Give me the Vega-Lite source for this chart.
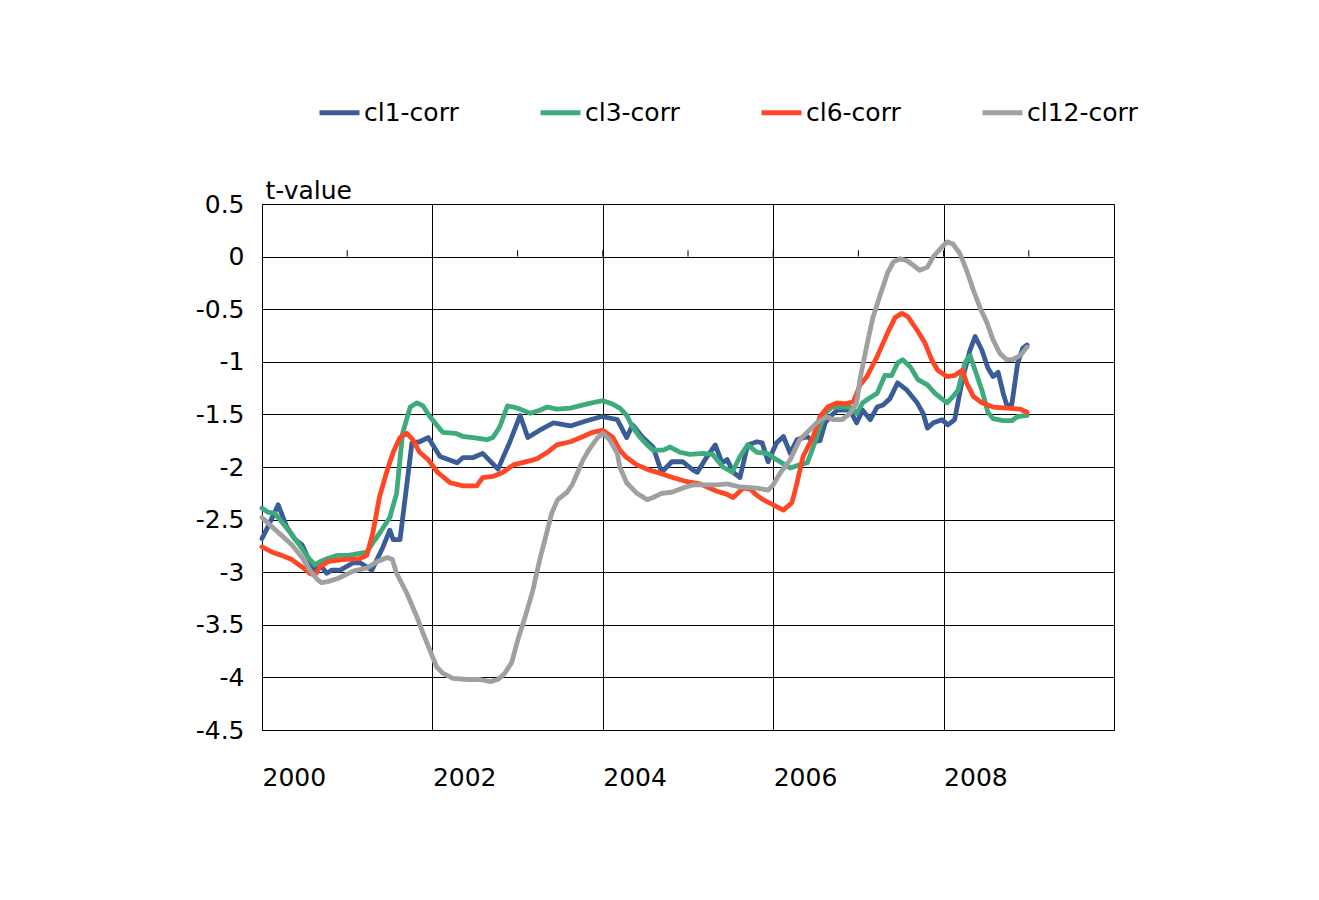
{
  "$schema": "https://vega.github.io/schema/vega-lite/v6.json",
  "width": 852,
  "height": 526,
  "autosize": {"type": "none"},
  "padding": {"left": 262, "top": 204, "right": 205, "bottom": 170},
  "background": "white",
  "config": {
    "font": "DejaVu Sans",
    "view": {"stroke": "black", "strokeWidth": 1},
    "axis": {"labelFont": "DejaVu Sans", "titleFont": "DejaVu Sans", "labelColor": "black", "titleColor": "black"},
    "legend": {"labelFont": "DejaVu Sans"}
  },
  "datasets": {
    "ticks": [{"yr": 2001}, {"yr": 2002}, {"yr": 2003}, {"yr": 2004}, {"yr": 2005}, {"yr": 2006}, {"yr": 2007}, {"yr": 2008}, {"yr": 2009}],
    "series": [
      {"s":"cl1-corr","x":2000.00,"y":-2.68},{"s":"cl1-corr","x":2000.05,"y":-2.60},{"s":"cl1-corr","x":2000.19,"y":-2.36},{"s":"cl1-corr","x":2000.29,"y":-2.57},{"s":"cl1-corr","x":2000.39,"y":-2.69},{"s":"cl1-corr","x":2000.47,"y":-2.74},{"s":"cl1-corr","x":2000.54,"y":-2.86},{"s":"cl1-corr","x":2000.62,"y":-2.98},{"s":"cl1-corr","x":2000.68,"y":-2.93},{"s":"cl1-corr","x":2000.76,"y":-3.01},{"s":"cl1-corr","x":2000.82,"y":-2.98},{"s":"cl1-corr","x":2000.92,"y":-2.98},{"s":"cl1-corr","x":2001.07,"y":-2.91},{"s":"cl1-corr","x":2001.15,"y":-2.91},{"s":"cl1-corr","x":2001.29,"y":-2.98},{"s":"cl1-corr","x":2001.42,"y":-2.76},{"s":"cl1-corr","x":2001.50,"y":-2.60},{"s":"cl1-corr","x":2001.54,"y":-2.69},{"s":"cl1-corr","x":2001.62,"y":-2.69},{"s":"cl1-corr","x":2001.76,"y":-1.77},{"s":"cl1-corr","x":2001.85,"y":-1.76},{"s":"cl1-corr","x":2001.95,"y":-1.72},{"s":"cl1-corr","x":2002.09,"y":-1.90},{"s":"cl1-corr","x":2002.29,"y":-1.96},{"s":"cl1-corr","x":2002.36,"y":-1.91},{"s":"cl1-corr","x":2002.48,"y":-1.91},{"s":"cl1-corr","x":2002.59,"y":-1.87},{"s":"cl1-corr","x":2002.77,"y":-2.02},{"s":"cl1-corr","x":2002.91,"y":-1.76},{"s":"cl1-corr","x":2003.03,"y":-1.51},{"s":"cl1-corr","x":2003.12,"y":-1.72},{"s":"cl1-corr","x":2003.26,"y":-1.65},{"s":"cl1-corr","x":2003.42,"y":-1.58},{"s":"cl1-corr","x":2003.62,"y":-1.61},{"s":"cl1-corr","x":2003.81,"y":-1.56},{"s":"cl1-corr","x":2003.99,"y":-1.52},{"s":"cl1-corr","x":2004.17,"y":-1.55},{"s":"cl1-corr","x":2004.28,"y":-1.72},{"s":"cl1-corr","x":2004.35,"y":-1.60},{"s":"cl1-corr","x":2004.47,"y":-1.72},{"s":"cl1-corr","x":2004.59,"y":-1.81},{"s":"cl1-corr","x":2004.69,"y":-2.05},{"s":"cl1-corr","x":2004.75,"y":-2.00},{"s":"cl1-corr","x":2004.81,"y":-1.95},{"s":"cl1-corr","x":2004.94,"y":-1.95},{"s":"cl1-corr","x":2005.06,"y":-2.03},{"s":"cl1-corr","x":2005.11,"y":-2.05},{"s":"cl1-corr","x":2005.20,"y":-1.93},{"s":"cl1-corr","x":2005.32,"y":-1.79},{"s":"cl1-corr","x":2005.40,"y":-1.96},{"s":"cl1-corr","x":2005.46,"y":-1.93},{"s":"cl1-corr","x":2005.53,"y":-2.05},{"s":"cl1-corr","x":2005.61,"y":-2.10},{"s":"cl1-corr","x":2005.70,"y":-1.79},{"s":"cl1-corr","x":2005.81,"y":-1.76},{"s":"cl1-corr","x":2005.87,"y":-1.77},{"s":"cl1-corr","x":2005.94,"y":-1.95},{"s":"cl1-corr","x":2006.04,"y":-1.77},{"s":"cl1-corr","x":2006.12,"y":-1.71},{"s":"cl1-corr","x":2006.20,"y":-1.87},{"s":"cl1-corr","x":2006.28,"y":-1.74},{"s":"cl1-corr","x":2006.40,"y":-1.71},{"s":"cl1-corr","x":2006.47,"y":-1.76},{"s":"cl1-corr","x":2006.55,"y":-1.75},{"s":"cl1-corr","x":2006.61,"y":-1.58},{"s":"cl1-corr","x":2006.67,"y":-1.52},{"s":"cl1-corr","x":2006.75,"y":-1.46},{"s":"cl1-corr","x":2006.90,"y":-1.46},{"s":"cl1-corr","x":2006.98,"y":-1.58},{"s":"cl1-corr","x":2007.05,"y":-1.46},{"s":"cl1-corr","x":2007.14,"y":-1.55},{"s":"cl1-corr","x":2007.22,"y":-1.43},{"s":"cl1-corr","x":2007.29,"y":-1.41},{"s":"cl1-corr","x":2007.37,"y":-1.35},{"s":"cl1-corr","x":2007.46,"y":-1.20},{"s":"cl1-corr","x":2007.57,"y":-1.27},{"s":"cl1-corr","x":2007.69,"y":-1.39},{"s":"cl1-corr","x":2007.76,"y":-1.49},{"s":"cl1-corr","x":2007.81,"y":-1.63},{"s":"cl1-corr","x":2007.88,"y":-1.58},{"s":"cl1-corr","x":2007.98,"y":-1.55},{"s":"cl1-corr","x":2008.05,"y":-1.60},{"s":"cl1-corr","x":2008.13,"y":-1.55},{"s":"cl1-corr","x":2008.22,"y":-1.17},{"s":"cl1-corr","x":2008.31,"y":-0.89},{"s":"cl1-corr","x":2008.37,"y":-0.76},{"s":"cl1-corr","x":2008.45,"y":-0.89},{"s":"cl1-corr","x":2008.52,"y":-1.06},{"s":"cl1-corr","x":2008.58,"y":-1.14},{"s":"cl1-corr","x":2008.64,"y":-1.10},{"s":"cl1-corr","x":2008.70,"y":-1.30},{"s":"cl1-corr","x":2008.74,"y":-1.41},{"s":"cl1-corr","x":2008.80,"y":-1.41},{"s":"cl1-corr","x":2008.87,"y":-1.01},{"s":"cl1-corr","x":2008.93,"y":-0.87},{"s":"cl1-corr","x":2008.98,"y":-0.84},

      {"s":"cl3-corr","x":2000.00,"y":-2.39},{"s":"cl3-corr","x":2000.07,"y":-2.43},{"s":"cl3-corr","x":2000.15,"y":-2.44},{"s":"cl3-corr","x":2000.23,"y":-2.52},{"s":"cl3-corr","x":2000.31,"y":-2.60},{"s":"cl3-corr","x":2000.42,"y":-2.72},{"s":"cl3-corr","x":2000.54,"y":-2.86},{"s":"cl3-corr","x":2000.62,"y":-2.93},{"s":"cl3-corr","x":2000.68,"y":-2.90},{"s":"cl3-corr","x":2000.77,"y":-2.87},{"s":"cl3-corr","x":2000.89,"y":-2.84},{"s":"cl3-corr","x":2001.01,"y":-2.84},{"s":"cl3-corr","x":2001.15,"y":-2.82},{"s":"cl3-corr","x":2001.23,"y":-2.81},{"s":"cl3-corr","x":2001.30,"y":-2.72},{"s":"cl3-corr","x":2001.38,"y":-2.63},{"s":"cl3-corr","x":2001.50,"y":-2.48},{"s":"cl3-corr","x":2001.58,"y":-2.25},{"s":"cl3-corr","x":2001.65,"y":-1.68},{"s":"cl3-corr","x":2001.74,"y":-1.43},{"s":"cl3-corr","x":2001.82,"y":-1.39},{"s":"cl3-corr","x":2001.89,"y":-1.42},{"s":"cl3-corr","x":2001.97,"y":-1.52},{"s":"cl3-corr","x":2002.12,"y":-1.67},{"s":"cl3-corr","x":2002.27,"y":-1.68},{"s":"cl3-corr","x":2002.36,"y":-1.71},{"s":"cl3-corr","x":2002.48,"y":-1.72},{"s":"cl3-corr","x":2002.64,"y":-1.74},{"s":"cl3-corr","x":2002.71,"y":-1.72},{"s":"cl3-corr","x":2002.79,"y":-1.62},{"s":"cl3-corr","x":2002.88,"y":-1.42},{"s":"cl3-corr","x":2002.95,"y":-1.43},{"s":"cl3-corr","x":2003.03,"y":-1.45},{"s":"cl3-corr","x":2003.15,"y":-1.49},{"s":"cl3-corr","x":2003.26,"y":-1.46},{"s":"cl3-corr","x":2003.35,"y":-1.43},{"s":"cl3-corr","x":2003.46,"y":-1.45},{"s":"cl3-corr","x":2003.62,"y":-1.44},{"s":"cl3-corr","x":2003.77,"y":-1.41},{"s":"cl3-corr","x":2003.93,"y":-1.38},{"s":"cl3-corr","x":2004.00,"y":-1.37},{"s":"cl3-corr","x":2004.11,"y":-1.40},{"s":"cl3-corr","x":2004.20,"y":-1.44},{"s":"cl3-corr","x":2004.28,"y":-1.51},{"s":"cl3-corr","x":2004.35,"y":-1.62},{"s":"cl3-corr","x":2004.44,"y":-1.72},{"s":"cl3-corr","x":2004.52,"y":-1.79},{"s":"cl3-corr","x":2004.59,"y":-1.84},{"s":"cl3-corr","x":2004.71,"y":-1.84},{"s":"cl3-corr","x":2004.79,"y":-1.81},{"s":"cl3-corr","x":2004.91,"y":-1.86},{"s":"cl3-corr","x":2005.02,"y":-1.88},{"s":"cl3-corr","x":2005.18,"y":-1.87},{"s":"cl3-corr","x":2005.29,"y":-1.88},{"s":"cl3-corr","x":2005.41,"y":-2.00},{"s":"cl3-corr","x":2005.52,"y":-2.05},{"s":"cl3-corr","x":2005.61,"y":-1.90},{"s":"cl3-corr","x":2005.70,"y":-1.79},{"s":"cl3-corr","x":2005.81,"y":-1.86},{"s":"cl3-corr","x":2005.93,"y":-1.87},{"s":"cl3-corr","x":2006.04,"y":-1.93},{"s":"cl3-corr","x":2006.20,"y":-2.01},{"s":"cl3-corr","x":2006.31,"y":-1.98},{"s":"cl3-corr","x":2006.40,"y":-1.96},{"s":"cl3-corr","x":2006.47,"y":-1.81},{"s":"cl3-corr","x":2006.55,"y":-1.62},{"s":"cl3-corr","x":2006.61,"y":-1.49},{"s":"cl3-corr","x":2006.69,"y":-1.43},{"s":"cl3-corr","x":2006.90,"y":-1.43},{"s":"cl3-corr","x":2006.98,"y":-1.49},{"s":"cl3-corr","x":2007.05,"y":-1.39},{"s":"cl3-corr","x":2007.14,"y":-1.34},{"s":"cl3-corr","x":2007.22,"y":-1.30},{"s":"cl3-corr","x":2007.31,"y":-1.13},{"s":"cl3-corr","x":2007.39,"y":-1.13},{"s":"cl3-corr","x":2007.46,"y":-1.01},{"s":"cl3-corr","x":2007.52,"y":-0.98},{"s":"cl3-corr","x":2007.61,"y":-1.05},{"s":"cl3-corr","x":2007.70,"y":-1.17},{"s":"cl3-corr","x":2007.81,"y":-1.22},{"s":"cl3-corr","x":2007.90,"y":-1.30},{"s":"cl3-corr","x":2008.04,"y":-1.39},{"s":"cl3-corr","x":2008.11,"y":-1.33},{"s":"cl3-corr","x":2008.17,"y":-1.27},{"s":"cl3-corr","x":2008.25,"y":-1.01},{"s":"cl3-corr","x":2008.31,"y":-0.94},{"s":"cl3-corr","x":2008.37,"y":-1.08},{"s":"cl3-corr","x":2008.45,"y":-1.27},{"s":"cl3-corr","x":2008.52,"y":-1.48},{"s":"cl3-corr","x":2008.58,"y":-1.54},{"s":"cl3-corr","x":2008.70,"y":-1.56},{"s":"cl3-corr","x":2008.80,"y":-1.56},{"s":"cl3-corr","x":2008.87,"y":-1.52},{"s":"cl3-corr","x":2008.98,"y":-1.51},

      {"s":"cl6-corr","x":2000.00,"y":-2.76},{"s":"cl6-corr","x":2000.12,"y":-2.81},{"s":"cl6-corr","x":2000.23,"y":-2.84},{"s":"cl6-corr","x":2000.35,"y":-2.88},{"s":"cl6-corr","x":2000.47,"y":-2.95},{"s":"cl6-corr","x":2000.56,"y":-3.01},{"s":"cl6-corr","x":2000.62,"y":-3.03},{"s":"cl6-corr","x":2000.68,"y":-2.95},{"s":"cl6-corr","x":2000.77,"y":-2.90},{"s":"cl6-corr","x":2000.94,"y":-2.88},{"s":"cl6-corr","x":2001.15,"y":-2.87},{"s":"cl6-corr","x":2001.23,"y":-2.84},{"s":"cl6-corr","x":2001.30,"y":-2.63},{"s":"cl6-corr","x":2001.38,"y":-2.28},{"s":"cl6-corr","x":2001.47,"y":-2.03},{"s":"cl6-corr","x":2001.54,"y":-1.86},{"s":"cl6-corr","x":2001.62,"y":-1.72},{"s":"cl6-corr","x":2001.70,"y":-1.68},{"s":"cl6-corr","x":2001.77,"y":-1.74},{"s":"cl6-corr","x":2001.85,"y":-1.86},{"s":"cl6-corr","x":2001.95,"y":-1.93},{"s":"cl6-corr","x":2002.06,"y":-2.05},{"s":"cl6-corr","x":2002.21,"y":-2.15},{"s":"cl6-corr","x":2002.36,"y":-2.18},{"s":"cl6-corr","x":2002.52,"y":-2.18},{"s":"cl6-corr","x":2002.59,"y":-2.10},{"s":"cl6-corr","x":2002.71,"y":-2.09},{"s":"cl6-corr","x":2002.83,"y":-2.05},{"s":"cl6-corr","x":2002.95,"y":-1.98},{"s":"cl6-corr","x":2003.15,"y":-1.94},{"s":"cl6-corr","x":2003.23,"y":-1.92},{"s":"cl6-corr","x":2003.35,"y":-1.86},{"s":"cl6-corr","x":2003.46,"y":-1.79},{"s":"cl6-corr","x":2003.62,"y":-1.76},{"s":"cl6-corr","x":2003.77,"y":-1.71},{"s":"cl6-corr","x":2003.88,"y":-1.67},{"s":"cl6-corr","x":2004.00,"y":-1.65},{"s":"cl6-corr","x":2004.12,"y":-1.72},{"s":"cl6-corr","x":2004.20,"y":-1.84},{"s":"cl6-corr","x":2004.28,"y":-1.91},{"s":"cl6-corr","x":2004.40,"y":-1.98},{"s":"cl6-corr","x":2004.55,"y":-2.03},{"s":"cl6-corr","x":2004.67,"y":-2.06},{"s":"cl6-corr","x":2004.82,"y":-2.10},{"s":"cl6-corr","x":2004.99,"y":-2.14},{"s":"cl6-corr","x":2005.14,"y":-2.16},{"s":"cl6-corr","x":2005.34,"y":-2.23},{"s":"cl6-corr","x":2005.46,"y":-2.26},{"s":"cl6-corr","x":2005.53,"y":-2.29},{"s":"cl6-corr","x":2005.65,"y":-2.20},{"s":"cl6-corr","x":2005.73,"y":-2.21},{"s":"cl6-corr","x":2005.81,"y":-2.27},{"s":"cl6-corr","x":2005.88,"y":-2.31},{"s":"cl6-corr","x":2006.00,"y":-2.36},{"s":"cl6-corr","x":2006.12,"y":-2.41},{"s":"cl6-corr","x":2006.22,"y":-2.34},{"s":"cl6-corr","x":2006.28,"y":-2.15},{"s":"cl6-corr","x":2006.35,"y":-1.90},{"s":"cl6-corr","x":2006.47,"y":-1.71},{"s":"cl6-corr","x":2006.55,"y":-1.52},{"s":"cl6-corr","x":2006.64,"y":-1.43},{"s":"cl6-corr","x":2006.75,"y":-1.39},{"s":"cl6-corr","x":2006.84,"y":-1.40},{"s":"cl6-corr","x":2006.94,"y":-1.38},{"s":"cl6-corr","x":2007.02,"y":-1.22},{"s":"cl6-corr","x":2007.10,"y":-1.14},{"s":"cl6-corr","x":2007.22,"y":-0.95},{"s":"cl6-corr","x":2007.34,"y":-0.73},{"s":"cl6-corr","x":2007.43,"y":-0.58},{"s":"cl6-corr","x":2007.51,"y":-0.54},{"s":"cl6-corr","x":2007.58,"y":-0.57},{"s":"cl6-corr","x":2007.69,"y":-0.70},{"s":"cl6-corr","x":2007.78,"y":-0.82},{"s":"cl6-corr","x":2007.86,"y":-0.98},{"s":"cl6-corr","x":2007.93,"y":-1.08},{"s":"cl6-corr","x":2008.04,"y":-1.14},{"s":"cl6-corr","x":2008.13,"y":-1.13},{"s":"cl6-corr","x":2008.22,"y":-1.08},{"s":"cl6-corr","x":2008.27,"y":-1.20},{"s":"cl6-corr","x":2008.35,"y":-1.33},{"s":"cl6-corr","x":2008.45,"y":-1.39},{"s":"cl6-corr","x":2008.58,"y":-1.43},{"s":"cl6-corr","x":2008.74,"y":-1.44},{"s":"cl6-corr","x":2008.90,"y":-1.45},{"s":"cl6-corr","x":2008.98,"y":-1.48},

      {"s":"cl12-corr","x":2000.00,"y":-2.48},{"s":"cl12-corr","x":2000.12,"y":-2.57},{"s":"cl12-corr","x":2000.23,"y":-2.65},{"s":"cl12-corr","x":2000.35,"y":-2.74},{"s":"cl12-corr","x":2000.47,"y":-2.86},{"s":"cl12-corr","x":2000.56,"y":-2.98},{"s":"cl12-corr","x":2000.65,"y":-3.07},{"s":"cl12-corr","x":2000.70,"y":-3.10},{"s":"cl12-corr","x":2000.77,"y":-3.09},{"s":"cl12-corr","x":2000.89,"y":-3.06},{"s":"cl12-corr","x":2001.07,"y":-2.99},{"s":"cl12-corr","x":2001.23,"y":-2.96},{"s":"cl12-corr","x":2001.35,"y":-2.90},{"s":"cl12-corr","x":2001.47,"y":-2.86},{"s":"cl12-corr","x":2001.53,"y":-2.88},{"s":"cl12-corr","x":2001.58,"y":-3.01},{"s":"cl12-corr","x":2001.70,"y":-3.20},{"s":"cl12-corr","x":2001.82,"y":-3.43},{"s":"cl12-corr","x":2001.89,"y":-3.58},{"s":"cl12-corr","x":2001.97,"y":-3.74},{"s":"cl12-corr","x":2002.05,"y":-3.90},{"s":"cl12-corr","x":2002.12,"y":-3.96},{"s":"cl12-corr","x":2002.24,"y":-4.01},{"s":"cl12-corr","x":2002.41,"y":-4.02},{"s":"cl12-corr","x":2002.56,"y":-4.02},{"s":"cl12-corr","x":2002.68,"y":-4.04},{"s":"cl12-corr","x":2002.77,"y":-4.02},{"s":"cl12-corr","x":2002.85,"y":-3.96},{"s":"cl12-corr","x":2002.93,"y":-3.86},{"s":"cl12-corr","x":2003.00,"y":-3.65},{"s":"cl12-corr","x":2003.09,"y":-3.42},{"s":"cl12-corr","x":2003.18,"y":-3.17},{"s":"cl12-corr","x":2003.26,"y":-2.88},{"s":"cl12-corr","x":2003.35,"y":-2.60},{"s":"cl12-corr","x":2003.40,"y":-2.44},{"s":"cl12-corr","x":2003.47,"y":-2.31},{"s":"cl12-corr","x":2003.58,"y":-2.24},{"s":"cl12-corr","x":2003.64,"y":-2.17},{"s":"cl12-corr","x":2003.70,"y":-2.06},{"s":"cl12-corr","x":2003.77,"y":-1.93},{"s":"cl12-corr","x":2003.85,"y":-1.82},{"s":"cl12-corr","x":2003.94,"y":-1.72},{"s":"cl12-corr","x":2004.00,"y":-1.68},{"s":"cl12-corr","x":2004.08,"y":-1.74},{"s":"cl12-corr","x":2004.17,"y":-1.87},{"s":"cl12-corr","x":2004.20,"y":-2.00},{"s":"cl12-corr","x":2004.28,"y":-2.15},{"s":"cl12-corr","x":2004.40,"y":-2.25},{"s":"cl12-corr","x":2004.52,"y":-2.31},{"s":"cl12-corr","x":2004.59,"y":-2.29},{"s":"cl12-corr","x":2004.69,"y":-2.25},{"s":"cl12-corr","x":2004.81,"y":-2.24},{"s":"cl12-corr","x":2004.94,"y":-2.20},{"s":"cl12-corr","x":2005.06,"y":-2.17},{"s":"cl12-corr","x":2005.34,"y":-2.17},{"s":"cl12-corr","x":2005.46,"y":-2.16},{"s":"cl12-corr","x":2005.61,"y":-2.19},{"s":"cl12-corr","x":2005.81,"y":-2.20},{"s":"cl12-corr","x":2005.94,"y":-2.22},{"s":"cl12-corr","x":2006.00,"y":-2.17},{"s":"cl12-corr","x":2006.08,"y":-2.06},{"s":"cl12-corr","x":2006.20,"y":-1.93},{"s":"cl12-corr","x":2006.31,"y":-1.74},{"s":"cl12-corr","x":2006.40,"y":-1.67},{"s":"cl12-corr","x":2006.51,"y":-1.58},{"s":"cl12-corr","x":2006.63,"y":-1.52},{"s":"cl12-corr","x":2006.70,"y":-1.55},{"s":"cl12-corr","x":2006.81,"y":-1.55},{"s":"cl12-corr","x":2006.90,"y":-1.49},{"s":"cl12-corr","x":2006.98,"y":-1.39},{"s":"cl12-corr","x":2007.02,"y":-1.16},{"s":"cl12-corr","x":2007.10,"y":-0.84},{"s":"cl12-corr","x":2007.17,"y":-0.58},{"s":"cl12-corr","x":2007.25,"y":-0.38},{"s":"cl12-corr","x":2007.34,"y":-0.16},{"s":"cl12-corr","x":2007.41,"y":-0.05},{"s":"cl12-corr","x":2007.49,"y":-0.02},{"s":"cl12-corr","x":2007.57,"y":-0.04},{"s":"cl12-corr","x":2007.64,"y":-0.08},{"s":"cl12-corr","x":2007.72,"y":-0.13},{"s":"cl12-corr","x":2007.81,"y":-0.10},{"s":"cl12-corr","x":2007.88,"y":0.00},{"s":"cl12-corr","x":2007.98,"y":0.09},{"s":"cl12-corr","x":2008.04,"y":0.14},{"s":"cl12-corr","x":2008.11,"y":0.12},{"s":"cl12-corr","x":2008.19,"y":0.03},{"s":"cl12-corr","x":2008.27,"y":-0.13},{"s":"cl12-corr","x":2008.35,"y":-0.32},{"s":"cl12-corr","x":2008.43,"y":-0.49},{"s":"cl12-corr","x":2008.51,"y":-0.63},{"s":"cl12-corr","x":2008.58,"y":-0.79},{"s":"cl12-corr","x":2008.66,"y":-0.92},{"s":"cl12-corr","x":2008.74,"y":-0.98},{"s":"cl12-corr","x":2008.81,"y":-0.98},{"s":"cl12-corr","x":2008.90,"y":-0.94},{"s":"cl12-corr","x":2008.98,"y":-0.86}
    ]
  },
  "layer": [
    {
      "data": {"name": "ticks"},
      "mark": {"type": "rule", "color": "black", "strokeWidth": 1},
      "encoding": {
        "x": {"field": "yr", "type": "quantitative", "scale": {"domain": [2000, 2010]}},
        "y": {"datum": 0, "type": "quantitative"},
        "y2": {"datum": 0.06}
      }
    },
    {
      "data": {"name": "series"},
      "mark": {"type": "line", "strokeWidth": 4.8, "strokeJoin": "round", "strokeCap": "round"},
      "encoding": {
        "x": {
          "field": "x", "type": "quantitative",
          "scale": {"domain": [2000, 2010], "nice": false, "zero": false},
          "axis": {
            "values": [2000, 2002, 2004, 2006, 2008],
            "labelExpr": "'' + datum.value",
            "labelAlign": "left", "labelDx": -6, "labelBaseline": "top", "labelPadding": 35,
            "labelFontSize": 25, "ticks": false, "domain": false,
            "grid": true, "gridColor": "black", "gridOpacity": 1, "gridWidth": 1,
            "title": null
          }
        },
        "y": {
          "field": "y", "type": "quantitative",
          "scale": {"domain": [-4.5, 0.5], "nice": false, "zero": false},
          "axis": {
            "values": [-4.5, -4, -3.5, -3, -2.5, -2, -1.5, -1, -0.5, 0, 0.5],
            "labelExpr": "'' + datum.value",
            "labelFontSize": 25, "labelPadding": 18, "ticks": false, "domain": false,
            "grid": true, "gridColor": "black", "gridOpacity": 1, "gridWidth": 1,
            "title": "t-value", "titleAngle": 0, "titleAlign": "left", "titleBaseline": "alphabetic",
            "titleX": 3, "titleY": -6, "titleFontSize": 25, "titleFontWeight": "normal"
          }
        },
        "color": {
          "field": "s", "type": "nominal",
          "scale": {"domain": ["cl1-corr", "cl3-corr", "cl6-corr", "cl12-corr"], "range": ["#3A5C97", "#3DAB7B", "#FF4726", "#A0A0A0"]},
          "legend": {
            "orient": "none", "legendX": 55, "legendY": -114, "direction": "horizontal", "columns": 4,
            "gridAlign": "all", "columnPadding": 55, "title": null,
            "symbolType": "stroke", "symbolSize": 1600, "symbolStrokeWidth": 4.8,
            "labelFontSize": 25, "labelColor": "black", "labelOffset": 2, "labelLimit": 300
          }
        }
      }
    }
  ]
}
